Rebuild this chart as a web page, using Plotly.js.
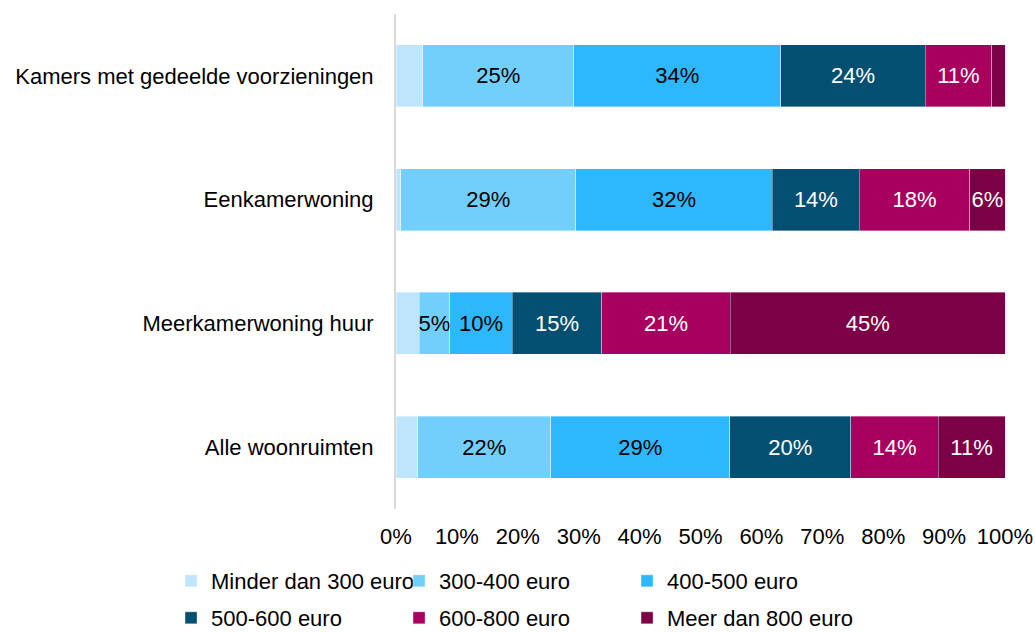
<!DOCTYPE html>
<html>
<head>
<meta charset="utf-8">
<script src="https://cdn.plot.ly/plotly-3.0.1.min.js"></script>
<style>html,body{margin:0;padding:0;background:#fff}#chart{width:1035px;height:632px}</style>
</head>
<body>
<div id="chart"></div>
<script>
const categories = ["Kamers met gedeelde voorzieningen", "Eenkamerwoning", "Meerkamerwoning huur", "Alle woonruimten"];
const seriesNames = ["Minder dan 300 euro", "300-400 euro", "400-500 euro", "500-600 euro", "600-800 euro", "Meer dan 800 euro"];
const minder300 = [4.4, 0.8, 3.8, 3.6];
const e300_400 = [24.8, 28.7, 5.0, 21.8];
const e400_500 = [34.0, 32.3, 10.3, 29.4];
const e500_600 = [23.7, 14.3, 14.7, 19.9];
const e600_800 = [10.9, 18.1, 21.1, 14.3];
const meer800 = [2.2, 5.8, 45.1, 11.0];
const tickValues = [0, 10, 20, 30, 40, 50, 60, 70, 80, 90, 100];

const series = [minder300, e300_400, e400_500, e500_600, e600_800, meer800];
const colors = ["#BEE5FC", "#72CFFC", "#2DB8FD", "#034F72", "#A8005E", "#7C0046"];
const textColors = ["#000000", "#000000", "#000000", "#FFFFFF", "#FFFFFF", "#FFFFFF"];

const traces = series.map((vals, i) => ({
  type: "bar",
  orientation: "h",
  name: seriesNames[i],
  y: categories,
  x: vals,
  text: vals.map(v => v >= 5 ? Math.round(v) + "%" : ""),
  texttemplate: "%{text}",
  textposition: "inside",
  insidetextanchor: "middle",
  constraintext: "none",
  textangle: 0,
  textfont: {family: "Liberation Sans, Arial, sans-serif", size: 22, color: textColors[i]},
  marker: {color: colors[i], line: {color: "rgba(255,255,255,0.6)", width: 0.6}},
  hoverinfo: "skip",
  legend: i < 3 ? "legend" : "legend2"
}));

const legendCommon = {
  orientation: "h",
  xref: "paper", yref: "paper",
  x: -0.3694, xanchor: "left",
  yanchor: "middle",
  entrywidth: 183,
  entrywidthmode: "pixels",
  bgcolor: "rgba(0,0,0,0)",
  borderwidth: 0,
  font: {family: "Liberation Sans, Arial, sans-serif", size: 22, color: "#000000"},
  traceorder: "normal"
};

const layout = {
  width: 1035, height: 632,
  paper_bgcolor: "#ffffff", plot_bgcolor: "#ffffff",
  margin: {l: 396, r: 30, t: 14, b: 123, autoexpand: false},
  barmode: "stack",
  bargap: 0.5,
  font: {family: "Liberation Sans, Arial, sans-serif", size: 22, color: "#000000"},
  xaxis: {
    range: [0, 100],
    tickvals: tickValues,
    ticktext: tickValues.map(v => v + "%"),
    showgrid: false, zeroline: false, showline: false,
    ticks: "", ticklabelstandoff: 12,
    tickfont: {size: 22, color: "#000000"},
    fixedrange: true
  },
  yaxis: {
    autorange: "reversed",
    showgrid: false, zeroline: false,
    showline: true, linecolor: "#D9D9D9", linewidth: 2,
    ticks: "", ticklabelstandoff: 16,
    tickfont: {size: 22, color: "#000000"},
    fixedrange: true
  },
  showlegend: true,
  legend: Object.assign({}, legendCommon, {y: -0.1455}),
  legend2: Object.assign({}, legendCommon, {y: -0.2202})
};

Plotly.newPlot("chart", traces, layout, {displayModeBar: false, staticPlot: true});
</script>
</body>
</html>
